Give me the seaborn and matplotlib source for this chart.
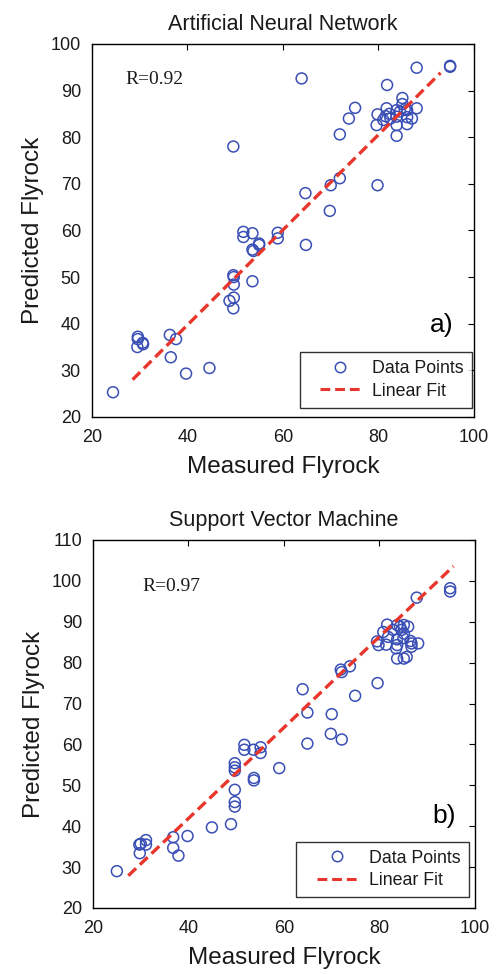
import numpy as np
import pandas as pd
import matplotlib
matplotlib.use("Agg")
import matplotlib.pyplot as plt
import seaborn as sns
from matplotlib.lines import Line2D
from matplotlib.legend_handler import HandlerLine2D

sns.set_theme(style="white")
plt.rcParams['font.family'] = ['Liberation Sans', 'DejaVu Sans']

# ---- Data: Artificial Neural Network ----
ann_measured = [24.4, 29.6, 29.6, 29.5, 30.6, 30.7, 36.3, 37.6, 36.5, 39.7, 44.6,
                49.6, 49.7, 49.7, 48.8, 49.7, 49.6, 53.6,
                51.7, 51.7, 53.6, 53.6, 53.8, 55.0, 55.0, 58.9, 58.9,
                64.8, 49.6, 63.9, 64.7, 70.0, 71.9, 69.8, 79.8,
                71.9, 73.8, 75.1, 81.8, 88.0, 95.0, 95.0,
                79.8, 79.6, 81.7, 81.0, 82.3, 83.8, 83.8, 83.8, 85.0, 85.0,
                86.0, 86.0, 86.0, 88.0, 87.0, 83.8, 84.5, 85.5, 82.5, 81.5]
ann_predicted = [25.3, 37.2, 36.7, 35.0, 35.9, 35.6, 37.6, 36.7, 32.8, 29.3, 30.5,
                 50.4, 50.0, 48.4, 44.9, 45.6, 43.3, 49.1,
                 59.7, 58.6, 59.4, 55.9, 55.6, 57.2, 56.9, 59.5, 58.3,
                 56.9, 78.0, 92.6, 68.0, 69.7, 71.2, 64.2, 69.7,
                 80.6, 84.0, 86.3, 91.2, 94.9, 95.3, 95.1,
                 84.9, 82.6, 86.2, 83.7, 85.0, 85.8, 84.4, 82.6, 88.4, 87.1,
                 85.8, 84.3, 82.8, 86.2, 84.0, 80.3, 85.5, 86.0, 84.0, 84.5]
ann_fit_x = [28.5, 93.0]
ann_fit_y = [28.0, 93.8]

# ---- Data: Support Vector Machine ----
svm_measured = [25.0, 29.7, 30.0, 29.8, 31.1, 31.1, 36.8, 36.8, 37.9, 39.8, 44.9, 48.9,
                49.7, 49.7, 49.7, 49.7, 49.7, 49.7,
                51.7, 51.7, 53.6, 55.1, 55.1, 53.7, 53.7, 59.0,
                64.9, 69.8, 72.1, 63.9, 64.9, 70.0,
                71.9, 72.1, 73.8, 74.9, 79.6, 87.8, 94.8, 94.8,
                79.5, 79.8, 81.4, 81.6, 80.8, 81.8, 82.9, 83.7, 84.3, 85.1, 86.0,
                84.6, 85.1, 83.7, 83.7, 83.5, 83.7, 85.1, 85.7, 86.7, 86.7, 88.1, 86.5, 85.0]
svm_predicted = [29.0, 35.5, 35.7, 33.4, 36.6, 35.5, 37.3, 34.7, 32.8, 37.6, 39.7, 40.5,
                 55.4, 54.4, 53.6, 48.9, 45.9, 44.8,
                 59.9, 58.7, 58.7, 59.3, 57.9, 51.8, 51.2, 54.2,
                 60.2, 62.6, 61.2, 73.5, 67.8, 67.4,
                 78.3, 77.7, 79.1, 71.9, 75.0, 95.9, 98.2, 97.4,
                 85.2, 84.3, 84.4, 89.3, 87.5, 86.3, 88.0, 89.2, 88.8, 89.2, 88.8,
                 88.0, 87.1, 85.7, 84.3, 83.5, 81.0, 81.0, 81.4, 84.7, 83.9, 84.7, 85.3, 86.0]
svm_fit_x = [27.4, 95.5]
svm_fit_y = [27.9, 103.6]

marker_color = '#3a4fb5'
line_color = '#e8362c'
text_color = '#1a1a1a'


class ShiftedHandler(HandlerLine2D):
    """Leave a blank strip on the left of the legend handle (MATLAB-like legend)."""
    def __init__(self, frac=0.23, **kw):
        super().__init__(**kw)
        self.frac = frac

    def create_artists(self, legend, orig_handle, xdescent, ydescent, width, height,
                       fontsize, trans):
        shift = width * self.frac
        return super().create_artists(legend, orig_handle, xdescent - shift, ydescent,
                                      width - shift, height, fontsize, trans)


fig = plt.figure(figsize=(4.97, 9.74), dpi=100)
ax1 = fig.add_axes([0.1851, 0.5719, 0.7686, 0.3830])
ax2 = fig.add_axes([0.1871, 0.0678, 0.7686, 0.3778])

panels = [
    (ax1, ann_measured, ann_predicted, ann_fit_x, ann_fit_y, "Artificial Neural Network",
     "R=0.92", (27.0, 92.3), "a)", (93.3, 39.7), (20, 100), np.arange(20, 101, 10), (0.995, 0.025)),
    (ax2, svm_measured, svm_predicted, svm_fit_x, svm_fit_y, "Support Vector Machine",
     "R=0.97", (30.3, 98.6), "b)", (93.5, 42.6), (20, 110), np.arange(20, 111, 10), (0.984, 0.03)),
]

for ax, xm, yp, fx, fy, title, rtext, rpos, tag, tagpos, ylim, yt, legpos in panels:
    df = pd.DataFrame({'Measured': xm, 'Predicted': yp})
    sns.scatterplot(data=df, x='Measured', y='Predicted', ax=ax, marker='o', s=62,
                    facecolors='none', edgecolor=marker_color, linewidth=1.1, zorder=3)
    dfit = pd.DataFrame({'x': fx, 'y': fy})
    sns.lineplot(data=dfit, x='x', y='y', ax=ax, color=line_color, linewidth=2.4,
                 linestyle=(0, (3.2, 1.6)), zorder=4)
    ax.set_xlim(20, 100)
    ax.set_ylim(*ylim)
    ax.set_xticks(np.arange(20, 101, 20))
    ax.set_yticks(yt)
    ax.tick_params(direction='in', length=4, width=0.8, top=True, right=True,
                   labelsize=13, colors='black', labelcolor=text_color)
    ax.tick_params(axis='x', pad=9)
    ax.tick_params(axis='y', pad=8)
    for sp in ax.spines.values():
        sp.set_color('black')
        sp.set_linewidth(1.0)
    ax.set_title(title, fontsize=15.5, pad=10, color=text_color)
    ax.set_xlabel('Measured Flyrock', fontsize=17.5, labelpad=7, color=text_color)
    ax.set_ylabel('Predicted Flyrock', fontsize=17.5, labelpad=5, color=text_color)
    ax.text(rpos[0], rpos[1], rtext, family=['Liberation Serif', 'DejaVu Serif'],
            fontsize=14, va='center', ha='left', color=text_color)
    ax.text(tagpos[0], tagpos[1], tag, fontsize=19, va='center', ha='center', color='black')
    h_pts = Line2D([], [], marker='o', linestyle='none', markerfacecolor='none',
                   markeredgecolor=marker_color, markersize=7.5, markeredgewidth=1.1)
    h_fit = Line2D([], [], color=line_color, linewidth=2.2, linestyle=(0, (3.2, 1.6)))
    leg = ax.legend([h_pts, h_fit], ['Data Points', 'Linear Fit'], loc='lower right',
                    bbox_to_anchor=legpos,
                    handler_map={h_pts: ShiftedHandler(), h_fit: ShiftedHandler()},
                    fontsize=12.8, frameon=True, fancybox=False, edgecolor='black',
                    borderaxespad=0.0, handlelength=3.0, handletextpad=0.65,
                    borderpad=0.45, labelspacing=0.3)
    for t in leg.get_texts():
        t.set_color(text_color)
    leg.get_frame().set_linewidth(1.0)

fig.savefig('out.png', dpi=100)
